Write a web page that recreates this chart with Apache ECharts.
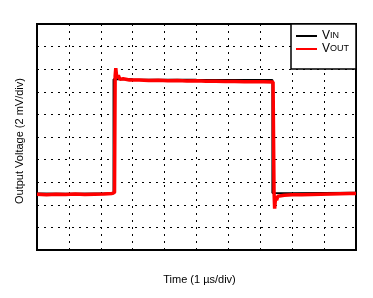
<!DOCTYPE html>
<html>
<head>
<meta charset="utf-8">
<script src="https://cdn.jsdelivr.net/npm/echarts@6/dist/echarts.min.js"></script>
<style>
html,body{margin:0;padding:0;background:#fff;}
#c{width:373px;height:298px;}
</style>
</head>
<body>
<div id="c"></div>
<script>
// Time axis in µs (1 µs/div), voltage axis in divisions (2 mV/div)
const xTitle = 'Time (1 µs/div)';
const yTitle = 'Output Voltage (2 mV/div)';
const seriesNames = ['VIN', 'VOUT'];

const vinT = [0, 1.0, 2.0, 2.40, 2.40, 3.0, 5.0, 7.38, 7.38, 8.0, 9.0, 10];
const vinV = [2.50, 2.49, 2.50, 2.50, 7.56, 7.55, 7.53, 7.52, 2.52, 2.51, 2.52, 2.53];

const voutT = [0, 0.3, 0.6, 0.9, 1.2, 1.5, 1.8, 2.1, 2.35, 2.43, 2.45, 2.47, 2.50, 2.55, 2.60, 2.70, 2.90, 3.2, 3.5, 3.8, 4.1, 4.4, 4.7, 5.0, 5.3, 5.6, 5.9, 6.2, 6.5, 6.8, 7.1, 7.40, 7.43, 7.45, 7.48, 7.51, 7.55, 7.60, 7.75, 8.0, 8.3, 8.6, 8.9, 9.2, 9.5, 9.8, 10];
const voutV = [2.47, 2.45, 2.47, 2.46, 2.48, 2.46, 2.47, 2.48, 2.50, 2.55, 7.70, 8.05, 7.62, 7.72, 7.55, 7.58, 7.52, 7.52, 7.50, 7.51, 7.49, 7.50, 7.48, 7.49, 7.47, 7.47, 7.46, 7.46, 7.45, 7.45, 7.44, 7.43, 2.60, 1.83, 2.35, 2.20, 2.38, 2.40, 2.42, 2.44, 2.45, 2.46, 2.47, 2.48, 2.49, 2.50, 2.50];

const zip = (a, b) => a.map((t, i) => [t, b[i]]);

const chart = echarts.init(document.getElementById('c'), null, {renderer: 'canvas'});
const font = '"Liberation Sans", Arial, sans-serif';
const splitLine = {show: true, lineStyle: {color: '#000', width: 1, type: [2, 5]}};

chart.setOption({
  animation: false,
  backgroundColor: '#fff',
  textStyle: {fontFamily: font},
  grid: {left: 37, right: 17, top: 24, bottom: 48, show: true, borderColor: '#000', borderWidth: 2, backgroundColor: 'transparent'},
  xAxis: {
    type: 'value', min: 0, max: 10, interval: 1,
    axisLabel: {show: false}, axisTick: {show: false}, axisLine: {show: false},
    splitLine: splitLine,
    name: xTitle, nameLocation: 'middle', nameGap: 24,
    nameTextStyle: {fontSize: 11, color: '#000', fontFamily: font, padding: [0, 0, 0, 6]}
  },
  yAxis: {
    type: 'value', min: 0, max: 10, interval: 1,
    axisLabel: {show: false}, axisTick: {show: false}, axisLine: {show: false},
    splitLine: splitLine,
    name: yTitle, nameLocation: 'middle', nameGap: 12,
    nameTextStyle: {fontSize: 11, color: '#000', fontFamily: font, padding: [0, 8, 0, 0]}
  },
  graphic: [{
    type: 'rect', z: 100,
    shape: {x: 291, y: 24, width: 65, height: 45},
    style: {fill: '#fff', stroke: '#000', lineWidth: 1.5}
  }],
  legend: {
    z: 200,
    orient: 'vertical', left: 296, top: 30, padding: 0, itemGap: 1,
    itemWidth: 21, itemHeight: 2, icon: 'rect',
    data: seriesNames,
    formatter: function (n) { return n === 'VIN' ? '{v|V}{s|IN}' : '{v|V}{s|OUT}'; },
    textStyle: {
      color: '#000', fontFamily: font,
      rich: {
        v: {fontSize: 12, lineHeight: 15, color: '#000', fontFamily: font},
        s: {fontSize: 9, lineHeight: 15, color: '#000', fontFamily: font}
      }
    }
  },
  series: [
    {name: 'VIN', type: 'line', data: zip(vinT, vinV), symbol: 'none', z: 2,
     lineStyle: {color: '#000', width: 2}, itemStyle: {color: '#000'}},
    {name: 'VOUT', type: 'line', data: zip(voutT, voutV), symbol: 'none', z: 3,
     lineStyle: {color: '#ff0000', width: 3.5}, itemStyle: {color: '#ff0000'}}
  ]
});
</script>
</body>
</html>
